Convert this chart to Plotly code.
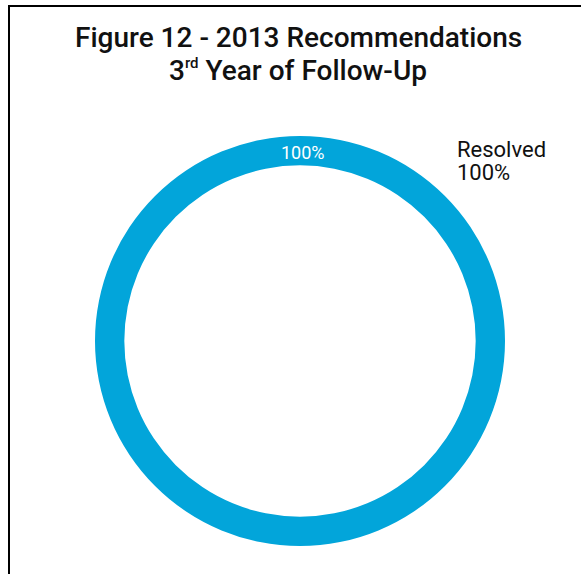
import plotly.graph_objects as go

# Recommendation status breakdown
statuses = ["Resolved"]
shares = [100]
status_colors = ["#02A5DA"]

W, H = 581, 574

def px_x(x):
    return x / W

def px_y(y):
    return 1 - y / H

cx, cy, r = 300, 341, 205

fig = go.Figure(
    go.Pie(
        labels=statuses,
        values=shares,
        hole=0.857,
        marker=dict(colors=status_colors, line=dict(width=0)),
        textinfo="none",
        hoverinfo="label+percent",
        sort=False,
        direction="clockwise",
        showlegend=False,
        domain=dict(x=[px_x(cx - r), px_x(cx + r)], y=[px_y(cy + r), px_y(cy - r)]),
    )
)

total = sum(shares)
pct_text = [f"{round(v / total * 100)}%" for v in shares]

annotations = [
    dict(text="Figure 12 - 2013 Recommendations", x=px_x(298), y=px_y(37),
         font=dict(family="Roboto", size=28, color="#111111", weight=500)),
    dict(text="3<sup><span style='font-size:15px'>rd</span></sup> Year of Follow-Up",
         x=px_x(298), y=px_y(71),
         font=dict(family="Roboto", size=28, color="#111111", weight=500)),
    dict(text=pct_text[0], x=px_x(302.5), y=px_y(152),
         font=dict(family="Roboto", size=18, color="white")),
    dict(text=statuses[0], x=px_x(455), y=px_y(149), xanchor="left",
         font=dict(family="Roboto", size=22, color="#111111")),
    dict(text=pct_text[0], x=px_x(455), y=px_y(172), xanchor="left",
         font=dict(family="Roboto", size=22, color="#111111")),
]
for a in annotations:
    a.setdefault("xanchor", "center")
    a["yanchor"] = "middle"
    a["xref"] = "paper"
    a["yref"] = "paper"
    a["showarrow"] = False

fig.update_layout(
    width=W,
    height=H,
    margin=dict(l=0, r=0, t=0, b=0),
    paper_bgcolor="white",
    plot_bgcolor="white",
    annotations=annotations,
    shapes=[
        dict(type="rect", xref="paper", yref="paper",
             x0=px_x(9), x1=1.02, y0=-0.02, y1=px_y(6),
             line=dict(color="black", width=2)),
    ],
)

fig.write_html("out.html")
